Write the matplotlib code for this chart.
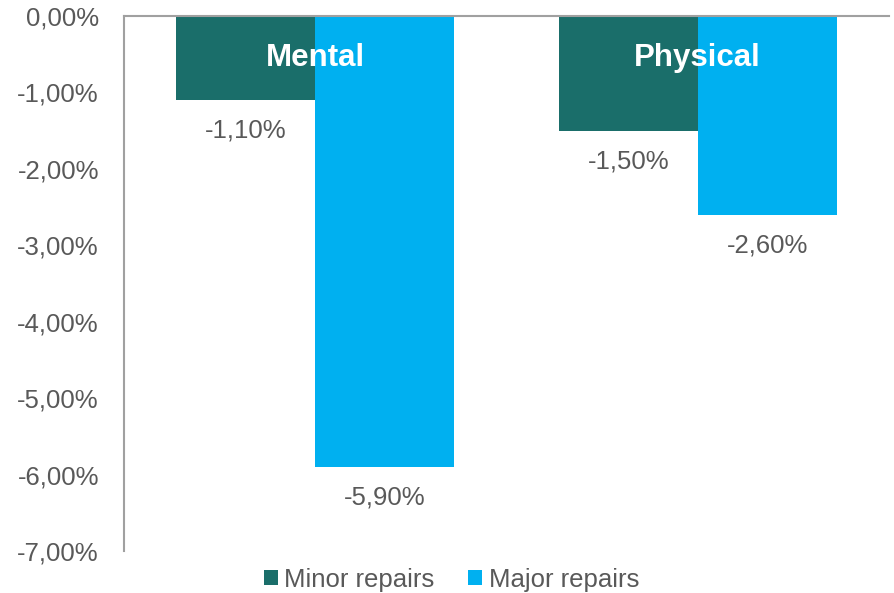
import matplotlib.pyplot as plt
import numpy as np

plt.rcParams['font.family'] = ['Liberation Sans', 'DejaVu Sans']

categorias = ['Mental', 'Physical']
series = ['Minor repairs', 'Major repairs']
minor = [-1.10, -1.50]
major = [-5.90, -2.60]
cores = ['#1A6E6A', '#00B0F0']
cinza = '#595959'

fig = plt.figure(figsize=(8.94, 5.93), dpi=100)
ax = fig.add_axes([0.1387, 0.0708, 0.8557, 0.9022])

x = np.arange(len(categorias))
largura = 0.363
barras = []
for i, (vals, cor, nome) in enumerate(zip([minor, major], cores, series)):
    pos = x + (i - 0.5) * largura
    b = ax.bar(pos, vals, largura, color=cor, label=nome)
    barras.append(b)
    for p, v in zip(pos, vals):
        ax.annotate(f'{v:.2f}%'.replace('.', ','), (p, v), xytext=(0, -22),
                    textcoords='offset points', ha='center', va='center',
                    fontsize=18.5, color=cinza)

for xi, nome in zip(x, categorias):
    ax.text(xi, -0.55, nome, ha='center', va='center', fontsize=22.5,
            fontweight='bold', color='white')

ax.set_xlim(-0.5, 1.5)
ax.set_ylim(-7, 0)
ax.set_yticks(np.arange(-7, 0.5, 1))
ax.set_yticklabels([f'{t:.2f}%'.replace('.', ',') for t in np.arange(-7, 0.5, 1)])
ax.tick_params(axis='y', length=0, labelsize=18.5, labelcolor=cinza, pad=18)
ax.set_xticks([])
for lado in ['right', 'bottom']:
    ax.spines[lado].set_visible(False)
for lado in ['left', 'top']:
    ax.spines[lado].set_color('#A0A0A0')
    ax.spines[lado].set_linewidth(1.5)

leg = fig.legend(handles=barras, loc='lower center', bbox_to_anchor=(0.505, -0.037),
                 ncol=2, frameon=False, fontsize=18.5, handlelength=0.55,
                 handleheight=0.55, handletextpad=0.25, columnspacing=1.3)
for t in leg.get_texts():
    t.set_color(cinza)

fig.savefig('out.png', dpi=100)
